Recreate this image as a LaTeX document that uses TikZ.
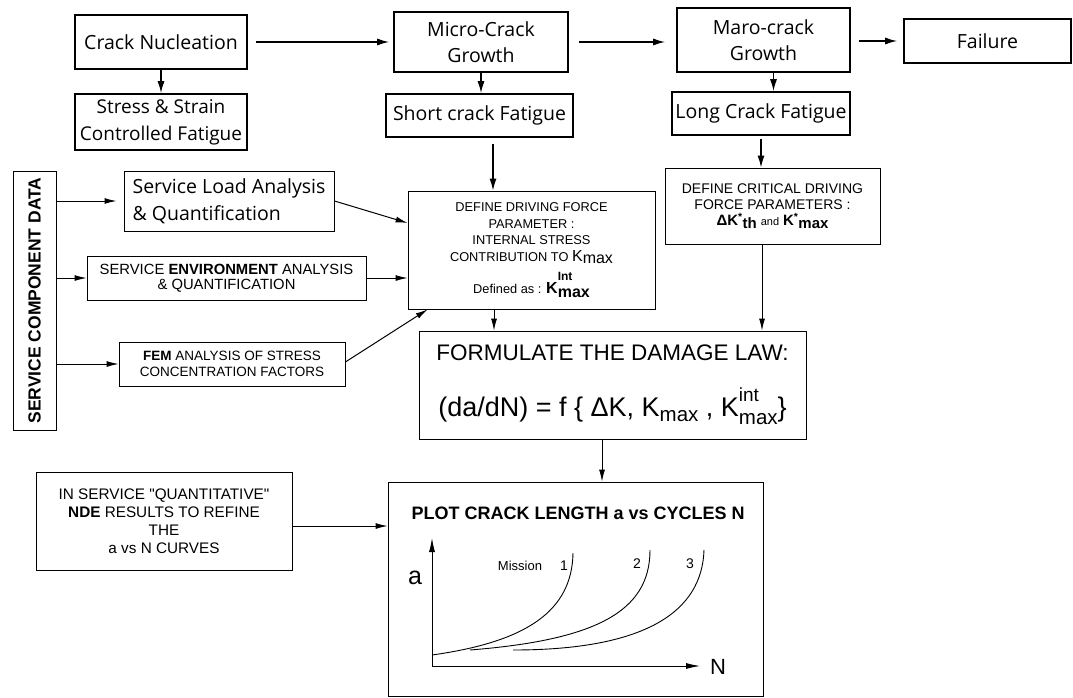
\documentclass[tikz,border=0pt]{standalone}
\usepackage{fontspec}
\setmainfont{Liberation Sans}
\newfontfamily\handfont{Open Sans}
\newfontfamily\quotefont{Liberation Sans}
\newcommand\dq{{\quotefont"}}
\usetikzlibrary{positioning,arrows.meta}

\begin{document}
\begin{tikzpicture}[x=1pt, y=-1pt,
  hbox/.style={draw, line width=1.6pt, font=\handfont\fontsize{19.5}{26}\selectfont, align=center, inner sep=2pt},
  sbox/.style={draw, line width=0.8pt, font=\fontsize{14.8}{15.5}\selectfont, align=center, inner sep=2pt},
  arr/.style={-{Latex[length=12pt,width=7pt]}, line width=1.4pt},
  tarr/.style={-{Latex[length=12pt,width=6pt]}, line width=1pt},
  axarr/.style={{Latex[length=14pt,width=6pt]}-{Latex[length=14pt,width=6pt]}, line width=0.9pt},
  curve/.style={line width=0.9pt},
]
\useasboundingbox (0,0) rectangle (1073,698);

% crack stages
\node[hbox, minimum width=172pt, minimum height=54pt] (nuc) at (161,42) {Crack Nucleation};
\node[hbox, minimum width=172pt, minimum height=56pt, font=\handfont\fontsize{19}{27}\selectfont] (ssc) at (161,122) {Stress \& Strain\\Controlled Fatigue};
\node[hbox, minimum width=174pt, minimum height=60pt] (micro) at (481,42) {Micro-Crack\\Growth};
\node[hbox, minimum width=187pt, minimum height=43pt] (short) at (479.5,115.5) {Short crack Fatigue};
\node[hbox, minimum width=173pt, minimum height=64pt] (macro) at (763.5,40) {Maro-crack\\Growth};
\node[hbox, minimum width=178pt, minimum height=43pt] (long) at (761,113.5) {Long Crack Fatigue};
\node[hbox, minimum width=167pt, minimum height=44pt] (fail) at (987.5,41) {Failure};

% service data
\node[sbox, minimum width=43pt, minimum height=259pt, font=\bfseries\fontsize{17.5}{18}\selectfont] (scd) at (34.5,300.5) {\rotatebox{90}{SERVICE COMPONENT DATA}};
\node[hbox, line width=1pt, align=left, minimum width=210pt, minimum height=60pt, font=\handfont\fontsize{19.5}{27}\selectfont] (load) at (229,201) {Service Load Analysis\\\& Quantification};
\node[sbox, minimum width=279pt, minimum height=44pt] (env) at (226.5,278) {SERVICE \textbf{ENVIRONMENT} ANALYSIS\\\& QUANTIFICATION};
\node[sbox, minimum width=226pt, minimum height=44pt, font=\fontsize{13.5}{15.5}\selectfont] (fem) at (232,364) {\textbf{FEM} ANALYSIS OF STRESS\\CONCENTRATION FACTORS};

% driving force
\node[sbox, minimum width=247pt, minimum height=118pt, font=\fontsize{12.8}{16.5}\selectfont] (ddf) at (531.5,250) {DEFINE DRIVING FORCE\\PARAMETER :\\INTERNAL STRESS\\CONTRIBUTION TO {\fontsize{16}{16}\selectfont K\raisebox{-0.3ex}{max}}\\[7pt]Defined as : {\bfseries\fontsize{16}{16}\selectfont K\rlap{\raisebox{1.6ex}{\fontsize{12}{12}\selectfont Int}}\raisebox{-0.4ex}{max}}};
\node[sbox, minimum width=215pt, minimum height=76pt, font=\fontsize{14}{16}\selectfont] (dcdf) at (772.5,206) {DEFINE CRITICAL DRIVING\\FORCE PARAMETERS :\\{\bfseries\fontsize{15}{15}\selectfont ΔK\textsuperscript{*}\raisebox{-0.4ex}{th}} {\fontsize{11}{11}\selectfont and} {\bfseries\fontsize{15}{15}\selectfont K\textsuperscript{*}\raisebox{-0.4ex}{max}}};
\node[sbox, minimum width=387pt, minimum height=108pt, font=\fontsize{22.5}{24}\selectfont] (law) at (612.5,385) {FORMULATE THE DAMAGE LAW:\\[26pt]{\fontsize{27}{27}\selectfont (da/dN) = f \{ ΔK, K\raisebox{-0.35ex}{\fontsize{20.5}{20}\selectfont max} , K\rlap{\raisebox{1.0ex}{\fontsize{19}{19}\selectfont int}}\raisebox{-0.6ex}{\fontsize{20.5}{20}\selectfont max}\}}};

% a vs N
\node[sbox, minimum width=256pt, minimum height=98pt, font=\fontsize{15.3}{18}\selectfont] (nde) at (164,521) {IN SERVICE \dq QUANTITATIVE\dq\\\textbf{NDE} RESULTS TO REFINE\\THE\\a vs N CURVES};
\node[sbox, minimum width=375pt, minimum height=214pt] (plot) at (575.5,589) {};
\node[font=\bfseries\fontsize{18}{18}\selectfont, anchor=west] (ptitle) at (408,513) {PLOT CRACK LENGTH a vs CYCLES N};
\node[font=\fontsize{25}{25}\selectfont] (alab) at (415,578) {a};
\node[font=\fontsize{22}{22}\selectfont] (nlab) at (718,667) {N};
\node[font=\fontsize{13}{13}\selectfont] (mis) at (520,566) {Mission};
\node[font=\fontsize{14}{14}\selectfont] (m1) at (564,566) {1};
\node[font=\fontsize{14}{14}\selectfont] (m2) at (637,564) {2};
\node[font=\fontsize{14}{14}\selectfont] (m3) at (690,564) {3};
\draw[axarr] (432,538) -- (432,666) -- (700,666);
\draw[curve] (432,655) .. controls (525,642) and (572,612) .. (573,553);
\draw[curve] (470,650) .. controls (595,640) and (650,612) .. (650,550);
\draw[curve] (513,650) .. controls (645,650) and (702,612) .. (704,550);

% connectors
\draw[arr] (nuc) -- (ssc);
\draw[arr, shorten <=8pt, shorten >=4pt] (nuc) -- (micro);
\draw[arr] (micro.south) -- (micro.south |- short.north);
\draw[arr, shorten <=10pt, shorten >=11pt] (micro.east) -- (micro.east -| macro.west);
\draw[arr] ([xshift=10pt]macro.south) -- ([xshift=10pt]macro.south |- long.north);
\draw[arr, shorten <=8pt, shorten >=6pt] (macro.east |- fail.west) -- (fail.west);
\draw[arr] ([xshift=13.5pt,yshift=-6pt]short.south) -- ([xshift=13.5pt]short.south |- ddf.north);
\draw[arr] ([yshift=-3pt]long.south) -- (long.south |- dcdf.north);
\draw[tarr, shorten >=7pt] (scd.east |- load.west) -- (load.west);
\draw[tarr] (scd.east |- env.west) -- (env.west);
\draw[tarr] (scd.east |- fem.west) -- (fem.west);
\draw[tarr] (load.east) -- ([yshift=27pt]ddf.west);
\draw[tarr] (env.east) -- (env.east -| ddf.west);
\draw[tarr] ([yshift=2pt]fem.east) -- ([xshift=20pt]ddf.south west);
\draw[tarr] ([xshift=-37.5pt]ddf.south) -- ([xshift=-37.5pt]ddf.south |- law.north);
\draw[tarr] ([xshift=-10.5pt]dcdf.south) -- ([xshift=-10.5pt]dcdf.south |- law.north);
\draw[tarr] ([xshift=-10.5pt]law.south) -- ([xshift=-10.5pt]law.south |- plot.north);
\draw[tarr] ([yshift=-5pt]nde.east) -- ([yshift=-5pt]nde.east -| plot.west);
\end{tikzpicture}
\end{document}
